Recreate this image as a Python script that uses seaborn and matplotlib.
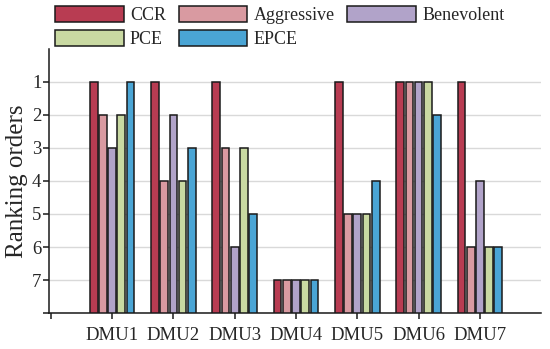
import pandas as pd
import seaborn as sns
import matplotlib
matplotlib.use("Agg")
import matplotlib.pyplot as plt

# Ranking data
dmus = ["DMU1", "DMU2", "DMU3", "DMU4", "DMU5", "DMU6", "DMU7"]
methods = ["CCR", "Aggressive", "Benevolent", "PCE", "EPCE"]
ccr = [1, 1, 1, 7, 1, 1, 1]
aggressive = [2, 4, 3, 7, 5, 1, 6]
benevolent = [3, 2, 6, 7, 5, 1, 4]
pce = [2, 4, 3, 7, 5, 1, 6]
epce = [1, 3, 5, 7, 4, 2, 6]
colors = ["#b83c52", "#d99aa1", "#b1a3c9", "#c9d9a2", "#4aa5d5"]

max_rank = 8

rows = []
for name, ranks in zip(methods, [ccr, aggressive, benevolent, pce, epce]):
    for dmu, r in zip(dmus, ranks):
        # bars grow from the bottom (rank 8) up to the rank
        rows.append({"DMU": dmu, "Method": name, "rank": r, "height": max_rank - r})
df = pd.DataFrame(rows)

sns.set_style("white")
plt.rcParams["font.family"] = ["Liberation Serif", "DejaVu Serif"]

fig = plt.figure(figsize=(5.5, 3.49), dpi=100)
ax = fig.add_axes([0.089, 0.103, 0.895, 0.757])

sns.barplot(data=df, x="DMU", y="height", hue="Method", order=dmus,
            hue_order=methods, palette=colors, width=0.75, gap=0.17,
            edgecolor="#1a1a1a", linewidth=1.1, saturation=1, ax=ax,
            legend=True, zorder=3)

ax.set_ylim(0, max_rank)
ax.set_yticks([max_rank - k for k in range(1, 8)] + [0])
ax.set_yticklabels([str(k) for k in range(1, 8)] + [""])
ax.yaxis.grid(True, color="#d9d9d9", linewidth=1.0, zorder=0)
ax.set_axisbelow(True)

ax.set_xlim(-1.03, 7.0)
ax.set_xticks(range(-1, 7))
ax.set_xticklabels([""] + dmus)

ax.set_xlabel("")
ax.set_ylabel("Ranking orders", fontsize=18)
ax.yaxis.set_label_coords(-0.043, 0.5)
ax.tick_params(axis="both", labelsize=13.5, length=4, width=1.1,
               direction="out", bottom=True, left=True, color="#1a1a1a")
ax.tick_params(axis="y", pad=1.5)
ax.tick_params(axis="x", pad=6)
for side in ["top", "right"]:
    ax.spines[side].set_visible(False)
for side in ["left", "bottom"]:
    ax.spines[side].set_color("#1a1a1a")
    ax.spines[side].set_linewidth(1.1)

handles, labels = ax.get_legend_handles_labels()
ax.get_legend().remove()
# legend fills column by column; reorder so rows read CCR, Aggressive, Benevolent / PCE, EPCE
order = [0, 3, 1, 4, 2]
fig.legend([handles[i] for i in order], [labels[i] for i in order],
           loc="upper left", bbox_to_anchor=(0.1, 0.983),
           ncol=3, frameon=False, fontsize=13, handlelength=3.8,
           handleheight=1.0, handletextpad=0.35, columnspacing=0.7,
           labelspacing=0.3, borderpad=0, borderaxespad=0)

fig.savefig("out.png", dpi=100)
